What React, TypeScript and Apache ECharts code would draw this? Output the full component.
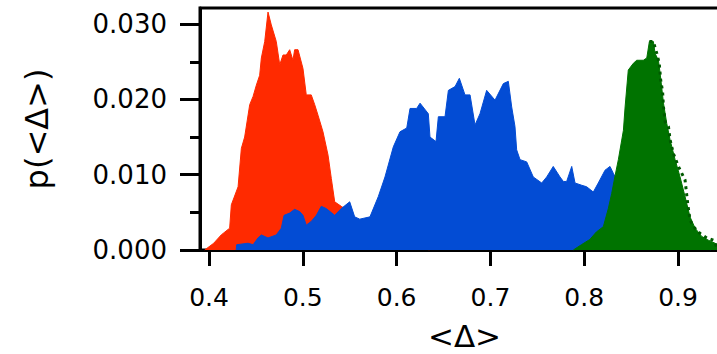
import React, { useEffect, useRef } from "react";
import * as echarts from "echarts";

const redX = [0.3954, 0.405, 0.413, 0.422, 0.4238, 0.431, 0.4345, 0.438, 0.4434, 0.447, 0.4505, 0.454, 0.4558, 0.4594, 0.4629, 0.4664, 0.4717, 0.4754, 0.4789, 0.4824, 0.486, 0.4895, 0.4913, 0.4949, 0.5002, 0.5037, 0.509, 0.5127, 0.5162, 0.5215, 0.5269, 0.5304, 0.534, 0.541, 0.547, 0.555, 0.565, 0.575, 0.585, 0.6, 0.615, 0.63, 0.635];
const redY = [0, 0.0009, 0.002, 0.0029, 0.006, 0.0084, 0.0135, 0.015, 0.0193, 0.0204, 0.0219, 0.0232, 0.0255, 0.0277, 0.0316, 0.0299, 0.0277, 0.0246, 0.0259, 0.0259, 0.0266, 0.0252, 0.0266, 0.0266, 0.0241, 0.0206, 0.0206, 0.0193, 0.0179, 0.0157, 0.0126, 0.0095, 0.0064, 0.0058, 0.0053, 0.003, 0.0015, 0.0008, 0.0004, 0.0003, 0.0003, 0.0002, 0];

const blueX = [0.429, 0.4295, 0.4416, 0.447, 0.4522, 0.4558, 0.4629, 0.4717, 0.4771, 0.48, 0.486, 0.4913, 0.4967, 0.5002, 0.5037, 0.509, 0.5144, 0.5197, 0.525, 0.534, 0.541, 0.55, 0.5553, 0.5607, 0.5716, 0.5805, 0.5876, 0.5965, 0.6036, 0.6108, 0.6143, 0.6214, 0.625, 0.6338, 0.6356, 0.642, 0.6445, 0.6516, 0.6552, 0.6623, 0.6669, 0.6729, 0.6783, 0.6836, 0.6889, 0.696, 0.7049, 0.7138, 0.7191, 0.7227, 0.7262, 0.728, 0.7316, 0.7387, 0.7457, 0.7547, 0.76, 0.767, 0.7742, 0.7778, 0.7813, 0.7867, 0.7902, 0.7973, 0.8026, 0.8097, 0.815, 0.8222, 0.8275, 0.831, 0.84, 0.86, 0.88, 0.9, 0.9128, 0.925, 0.935];
const blueY = [0, 0.0007, 0.0009, 0.0007, 0.0016, 0.002, 0.0016, 0.002, 0.0029, 0.0046, 0.0049, 0.0054, 0.0051, 0.0046, 0.0033, 0.0038, 0.0046, 0.0058, 0.0055, 0.0046, 0.0055, 0.0064, 0.0044, 0.0041, 0.0044, 0.0071, 0.0097, 0.0137, 0.0157, 0.0162, 0.0188, 0.0188, 0.0195, 0.0181, 0.015, 0.0144, 0.0177, 0.0177, 0.0212, 0.0217, 0.0228, 0.0206, 0.0206, 0.0166, 0.0181, 0.0212, 0.0199, 0.0221, 0.0224, 0.019, 0.0164, 0.0133, 0.012, 0.0117, 0.0097, 0.0089, 0.0097, 0.0111, 0.0097, 0.0091, 0.0091, 0.0111, 0.0089, 0.0086, 0.0084, 0.0077, 0.0089, 0.0106, 0.0111, 0.0102, 0.008, 0.006, 0.005, 0.004, 0.0031, 0.001, 0];

const greenX = [0.7884, 0.797, 0.806, 0.813, 0.8204, 0.8257, 0.8293, 0.8328, 0.8364, 0.84, 0.8418, 0.8436, 0.847, 0.8524, 0.856, 0.863, 0.8667, 0.8695, 0.8737, 0.8756, 0.8791, 0.8809, 0.8827, 0.8845, 0.888, 0.8916, 0.8969, 0.9022, 0.9075, 0.9128, 0.9182, 0.9253, 0.9324, 0.9395, 0.945];
const greenY = [0, 0.0007, 0.0014, 0.0024, 0.0031, 0.0055, 0.0075, 0.0098, 0.012, 0.0146, 0.0159, 0.019, 0.0239, 0.0248, 0.0252, 0.0252, 0.0255, 0.0277, 0.0277, 0.0261, 0.0252, 0.0235, 0.0215, 0.0195, 0.0168, 0.0146, 0.012, 0.0097, 0.0071, 0.0044, 0.0029, 0.0018, 0.0013, 0.0009, 0.0005];

const greenDotX = [0.8695, 0.8737, 0.8774, 0.88, 0.8815, 0.8836, 0.8845, 0.8863, 0.8898, 0.8916, 0.8951, 0.9004, 0.9075, 0.9103, 0.9128, 0.9164, 0.9235, 0.9306, 0.9377, 0.9413, 0.945];
const greenDotY = [0.0277, 0.0277, 0.0261, 0.0248, 0.0226, 0.021, 0.019, 0.017, 0.0164, 0.0146, 0.0128, 0.0111, 0.0093, 0.0062, 0.004, 0.0031, 0.0022, 0.0016, 0.0013, 0.0004, 0.0002];

const xTicks = [0.4, 0.5, 0.6, 0.7, 0.8, 0.9];
const yTicks = [0, 0.01, 0.02, 0.03];
const yMinorTicks = [0.005, 0.015, 0.025];

const X_MIN = 0.3904;
const X_MAX = 0.9437;
const Y_MAX = 0.03214;

const zip = (xs: number[], ys: number[]) => xs.map((x, i) => [x, ys[i]]);

const FONT = "DejaVu Sans";

export default function App() {
  const ref = useRef<HTMLDivElement>(null);
  useEffect(() => {
    if (!ref.current) return;
    const chart = echarts.init(ref.current, null, { renderer: "svg" });
    const area = (name: string, xs: number[], ys: number[], color: string, z: number) => ({
      name,
      type: "line",
      z,
      data: zip(xs, ys),
      showSymbol: false,
      symbol: "none",
      lineStyle: { color, width: 1 },
      itemStyle: { color },
      areaStyle: { color, opacity: 1 },
    });
    chart.setOption({
      animation: false,
      grid: {
        left: 200,
        top: 8,
        right: -2,
        bottom: 104,
        containLabel: false,
        outerBoundsMode: "none",
        show: true,
        borderColor: "#000",
        borderWidth: 3,
        backgroundColor: "transparent",
      },
      xAxis: {
        type: "value",
        min: X_MIN,
        max: X_MAX,
        name: "<Δ>",
        nameLocation: "middle",
        nameGap: 72,
        nameTextStyle: { fontFamily: FONT, fontSize: 31, lineHeight: 28, color: "#000", padding: [0, 0, 0, 10] },
        axisLine: { show: true, onZero: false, lineStyle: { color: "#000", width: 3 } },
        axisTick: { show: true, inside: false, length: 16, lineStyle: { color: "#000", width: 3 }, customValues: xTicks },
        axisLabel: {
          customValues: xTicks,
          margin: 35,
          fontFamily: FONT,
          fontSize: 25,
          color: "#000",
          formatter: (v: number) => v.toFixed(1),
        },
        splitLine: { show: false },
      },
      yAxis: [
        {
          type: "value",
          min: 0,
          max: Y_MAX,
          name: "p(<Δ>)",
          nameLocation: "middle",
          nameGap: 147,
          nameRotate: 90,
          nameTextStyle: { fontFamily: FONT, fontSize: 32, color: "#000" },
          axisLine: { show: true, lineStyle: { color: "#000", width: 3 } },
          axisTick: { show: true, length: 20, lineStyle: { color: "#000", width: 3 }, customValues: yTicks },
          axisLabel: {
            customValues: yTicks,
            margin: 33,
            fontFamily: FONT,
            fontSize: 26,
            color: "#000",
            formatter: (v: number) => v.toFixed(3),
          },
          splitLine: { show: false },
        },
        {
          type: "value",
          min: 0,
          max: Y_MAX,
          position: "left",
          axisLine: { show: false },
          axisTick: { show: true, length: 10, lineStyle: { color: "#000", width: 3 }, customValues: yMinorTicks },
          axisLabel: { show: false },
          splitLine: { show: false },
        },
      ],
      series: [
        area("red", redX, redY, "#ff2a00", 2),
        area("blue", blueX, blueY, "#034cd4", 3),
        area("green", greenX, greenY, "#007300", 4),
        {
          name: "green dotted",
          type: "line",
          z: 5,
          data: zip(greenDotX, greenDotY),
          showSymbol: false,
          symbol: "none",
          lineStyle: { color: "#005a00", width: 3, type: [3, 4] },
        },
      ],
    });
    return () => chart.dispose();
  }, []);
  return (
    <div
      ref={ref}
      style={{ position: "fixed", left: 0, top: 0, width: 717, height: 354, background: "#fff" }}
    />
  );
}
